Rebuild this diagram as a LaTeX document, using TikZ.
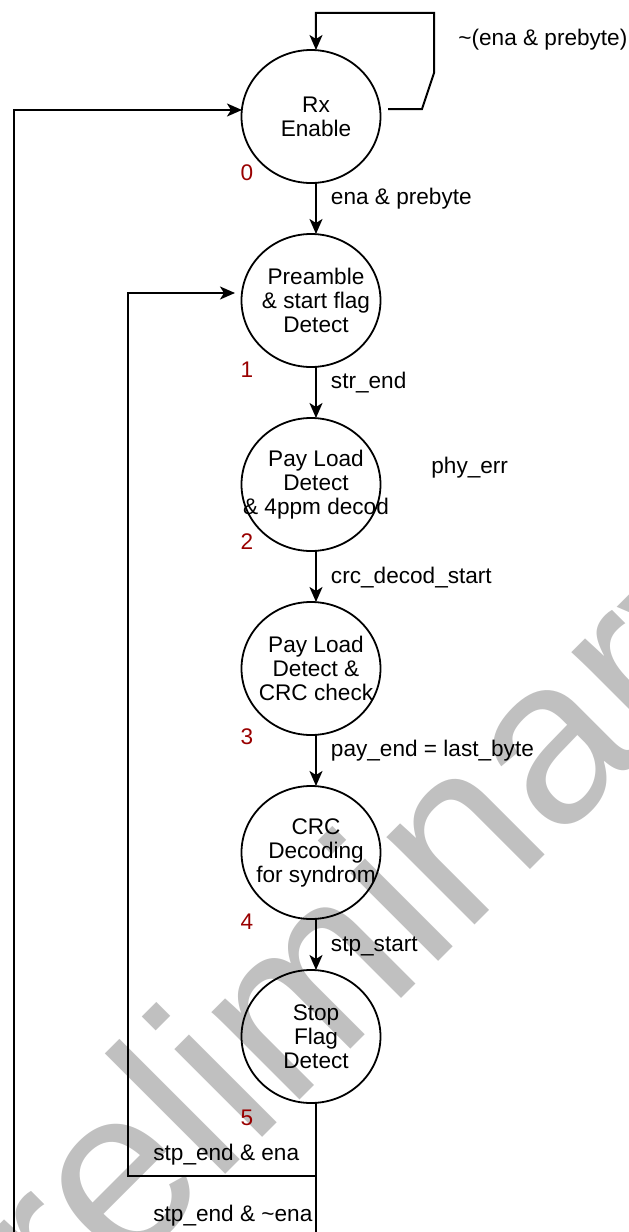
\documentclass[tikz,border=0pt]{standalone}
\usepackage{fontspec}
\setmainfont{Liberation Sans}
\usetikzlibrary{arrows.meta, positioning, shapes.geometric}
\definecolor{numred}{RGB}{153,0,0}
\definecolor{wmgray}{RGB}{192,192,192}
\tikzset{fsm/.style={ellipse,minimum width=69pt,minimum height=66.5pt,inner sep=-15pt,outer sep=0pt,align=center,font=\fontsize{11.3pt}{12pt}\selectfont},ring/.style={draw,line width=0.9pt},lbl/.style={inner sep=0pt,font=\fontsize{11.3pt}{12pt}\selectfont},num/.style={inner sep=0pt,text=numred,font=\fontsize{11.3pt}{12pt}\selectfont},line/.style={line width=1pt,-{Stealth[length=7.5pt,width=6.5pt,inset=2pt]}}}

\begin{document}
\begin{tikzpicture}[node distance=25.5pt]
\clip (-158pt,58.25pt) rectangle (156pt,-557.75pt);
% watermark behind the chart
\node[anchor=base west, rotate=45, text=wmgray, inner sep=0pt, font=\fontsize{117.5pt}{120pt}\selectfont] (wm) at (-180pt,-663.75pt) {Preliminary};
% states
\node[fsm] (s0) at (0,0) {Rx\\Enable};
\node[fsm, below=of s0] (s1) {Preamble\\\& start flag\\Detect};
\node[fsm, below=of s1] (s2) {Pay Load\\Detect\\\& 4ppm decod};
\node[fsm, below=of s2] (s3) {Pay Load\\Detect \&\\CRC check};
\node[fsm, below=of s3] (s4) {CRC\\Decoding\\for syndrom};
\node[fsm, below=of s4] (s5) {Stop\\Flag\\Detect};
\foreach \s in {s0,s1,s2,s3,s4,s5}
  \draw[ring] ([xshift=-2.5pt]\s.center) ellipse[x radius=34.75pt, y radius=33.25pt];
% state numbers
\node[num] at ([shift={(-34.5pt,-28.25pt)}]s0.center) {0};
\node[num] at ([shift={(-34.5pt,-34.75pt)}]s1.center) {1};
\node[num] at ([shift={(-34.5pt,-28.75pt)}]s2.center) {2};
\node[num] at ([shift={(-34.5pt,-34.25pt)}]s3.center) {3};
\node[num] at ([shift={(-34.5pt,-34.75pt)}]s4.center) {4};
\node[num] at ([shift={(-34.5pt,-40.75pt)}]s5.center) {5};
% forward transitions
\draw[line] (s0) -- node[lbl, right=7pt, yshift=4.75pt]{ena \& prebyte} (s1);
\draw[line] (s1) -- node[lbl, right=7pt, yshift=5pt]{str\_end} (s2);
\draw[line] (s2) -- node[lbl, right=7pt, yshift=-0.75pt]{crc\_decod\_start} (s3);
\draw[line] (s3) -- node[lbl, right=7pt, yshift=5pt]{pay\_end = last\_byte} (s4);
\draw[line] (s4) -- node[lbl, right=7pt, yshift=-1.25pt]{stp\_start} (s5);
\node[lbl, right=23pt of s2, yshift=8.25pt] (perr) {phy\_err};
% self loop on Rx Enable
\coordinate[above=18.5pt of s0.north] (looptop);
\draw[line] ([shift={(1.5pt,3.75pt)}]s0.east) -- ++(17pt,0) -- ++(6pt,18pt) |- (looptop) -- (s0.north);
\node[lbl, anchor=west] (lloop) at ([shift={(71pt,-13.5pt)}]looptop) {\textasciitilde(ena \& prebyte)};
% return paths
\coordinate[below left=36.5pt and 94pt of s5.south] (retB);
\coordinate[below left=80pt and 151pt of s5.south] (retA);
\draw[line, shorten >=3.5pt] (s5.south) |- (retB) |- ([shift={(-2.5pt,3.75pt)}]s1.west);
\draw[line] (s5.south) |- (retA) |- ([shift={(-2.5pt,3.25pt)}]s0.west);
\node[lbl, anchor=west] (lena) at ([shift={(-81.5pt,-26pt)}]s5.south) {stp\_end \& ena};
\node[lbl, anchor=west] (lnena) at ([shift={(-81.5pt,-56.5pt)}]s5.south) {stp\_end \& \textasciitilde ena};
\end{tikzpicture}
\end{document}
